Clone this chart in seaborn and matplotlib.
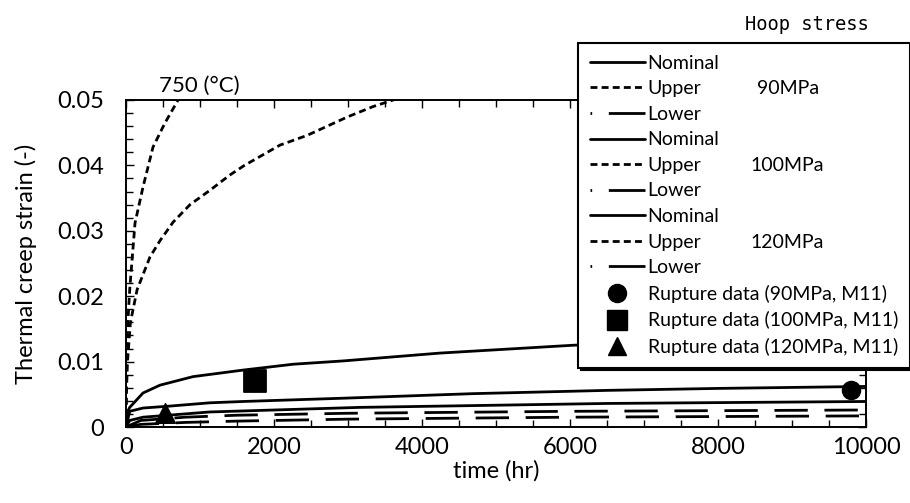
import matplotlib
matplotlib.use("Agg")
import matplotlib.pyplot as plt
import seaborn as sns
import numpy as np
import pandas as pd
from matplotlib.lines import Line2D
from matplotlib.ticker import MultipleLocator

# ---------------- data ----------------
upper_120_t = [0, 3, 15, 50, 122, 230, 365, 527, 689, 720]
upper_120_s = [0, 0.007, 0.014, 0.021, 0.0312, 0.0367, 0.0428, 0.0465, 0.0497, 0.0503]

upper_100_t = [0, 5, 20, 60, 150, 216, 324, 460, 635, 865, 1135, 1400, 1600, 2080, 2450, 2990, 3340, 3610, 3700]
upper_100_s = [0, 0.005, 0.010, 0.016, 0.021, 0.0229, 0.026, 0.0285, 0.0313, 0.034, 0.0362, 0.0385, 0.040,
               0.0431, 0.0446, 0.0474, 0.049, 0.050, 0.0503]

nominal_120_t = [0, 14, 50, 230, 460, 905, 1580, 2260, 2930, 4240, 6040, 8000, 10000]
nominal_120_s = [0, 0.0021, 0.003, 0.0052, 0.0064, 0.0077, 0.0087, 0.0096, 0.0101, 0.0113, 0.0125, 0.0134, 0.0142]

nominal_100_t = [0, 50, 230, 595, 1135, 1580, 2930, 4690, 6500, 8000, 10000]
nominal_100_s = [0, 0.0024, 0.0029, 0.0032, 0.0037, 0.0039, 0.0044, 0.0051, 0.0056, 0.0059, 0.0062]

nominal_90_t = [0, 50, 230, 1135, 3160, 6500, 10000]
nominal_90_s = [0, 0.0010, 0.0015, 0.0023, 0.0030, 0.0036, 0.0039]

lower_120_t = [0, 200, 800, 1500, 3000, 6000, 10000]
lower_120_s = [0, 0.0010, 0.0015, 0.0018, 0.0021, 0.0024, 0.0026]

lower_100_t = [0, 200, 800, 1500, 3000, 6000, 10000]
lower_100_s = [0, 0.0004, 0.0007, 0.0009, 0.0012, 0.0015, 0.0017]

rupture_90 = (9800, 0.0056)
rupture_100 = (1745, 0.0070)
rupture_120 = (527, 0.0021)

x_ticks = [0, 2000, 4000, 6000, 8000, 10000]
x_tick_labels = ["0", "2000", "4000", "6000", "8000", "10000"]
y_ticks = [0, 0.01, 0.02, 0.03, 0.04, 0.05]
y_tick_labels = ["0", "0.01", "0.02", "0.03", "0.04", "0.05"]

legend_labels = ["Nominal", "Upper", "Lower", "Nominal", "Upper", "Lower",
                 "Nominal", "Upper", "Lower",
                 "Rupture data (90MPa, M11)", "Rupture data (100MPa, M11)",
                 "Rupture data (120MPa, M11)"]
stress_labels = ["90MPa", "100MPa", "120MPa"]

# ---------------- style ----------------
sns.set_theme(style="white")
plt.rcParams["font.family"] = ["Lato", "DejaVu Sans"]
plt.rcParams["font.weight"] = "normal"
plt.rcParams["axes.labelweight"] = "normal"

W, H = 910, 503
fig = plt.figure(figsize=(W / 100, H / 100), dpi=100)
ax = fig.add_axes([126 / W, 1 - 427 / H, (866 - 126) / W, (427 - 100) / H])

LW = 2.0
solid = "-"
upper_ls = (0, (2.5, 1.5))
lower_ls = (0, (12, 6))

curves = [
    (upper_120_t, upper_120_s, upper_ls),
    (upper_100_t, upper_100_s, upper_ls),
    (nominal_120_t, nominal_120_s, solid),
    (nominal_100_t, nominal_100_s, solid),
    (nominal_90_t, nominal_90_s, solid),
    (lower_120_t, lower_120_s, lower_ls),
    (lower_100_t, lower_100_s, lower_ls),
]
for t, s, ls in curves:
    sns.lineplot(x=t, y=s, ax=ax, color="black", linewidth=LW, linestyle=ls,
                 estimator=None, sort=False, legend=False)

sns.scatterplot(x=[rupture_90[0]], y=[rupture_90[1]], ax=ax, marker="o", s=13 ** 2,
                color="black", edgecolor="black", legend=False, zorder=5)
sns.scatterplot(x=[rupture_100[0]], y=[rupture_100[1]], ax=ax, marker="s", s=16 ** 2,
                color="black", edgecolor="black", legend=False, zorder=5)
sns.scatterplot(x=[rupture_120[0]], y=[rupture_120[1]], ax=ax, marker="^", s=14 ** 2,
                color="black", edgecolor="black", legend=False, zorder=5)

ax.set_xlim(0, 10000)
ax.set_ylim(0, 0.05)
ax.set_xticks(x_ticks)
ax.set_xticklabels(x_tick_labels)
ax.set_yticks(y_ticks)
ax.set_yticklabels(y_tick_labels)
ax.xaxis.set_minor_locator(MultipleLocator(500))
ax.yaxis.set_minor_locator(MultipleLocator(0.002))
ax.tick_params(which="both", direction="in", top=True, right=True, bottom=True, left=True,
               color="black", width=1.0)
ax.tick_params(which="major", length=6, labelsize=17, labelcolor="black")
ax.tick_params(axis="x", which="major", pad=7)
ax.tick_params(axis="y", which="major", pad=16)
ax.tick_params(which="minor", length=5)
for sp in ax.spines.values():
    sp.set_color("black")
    sp.set_linewidth(1.4)

ax.set_xlabel("time (hr)", fontsize=17, color="black", labelpad=2, fontweight="normal")
ax.set_ylabel("Thermal creep strain (-)", fontsize=17, color="black", labelpad=14,
              fontweight="normal")

ax.text(0.045, 1.012, "750 (\u00b0C)", transform=ax.transAxes, fontsize=16,
        color="black", ha="left", va="bottom")
fig.text(745 / W, 1 - 25 / H, "Hoop stress", fontsize=13.5, color="black",
         family="DejaVu Sans Mono", ha="left", va="center")

# ---------------- legend ----------------
leg_lower = (0, (0.6, 6, 14, 6))
styles = [solid, upper_ls, leg_lower] * 3
handles = [Line2D([], [], color="black", linewidth=LW, linestyle=ls) for ls in styles]
handles += [
    Line2D([], [], color="black", marker="o", markersize=13, linestyle="none"),
    Line2D([], [], color="black", marker="s", markersize=15, linestyle="none"),
    Line2D([], [], color="black", marker="^", markersize=13, linestyle="none"),
]
leg = fig.legend(handles, legend_labels, loc="upper left",
                 bbox_to_anchor=(578 / W, 1 - 43 / H), bbox_transform=fig.transFigure,
                 borderaxespad=0,
                 fontsize=14, frameon=True, fancybox=False, framealpha=1,
                 edgecolor="black", facecolor="white", borderpad=0.6,
                 labelspacing=0.44, handlelength=2.83, handletextpad=0.15,
                 shadow={"color": "black", "alpha": 1})
leg.get_frame().set_linewidth(1.5)
leg.set_zorder(8)
for txt in leg.get_texts():
    txt.set_color("black")

fig.canvas.draw()
stress_x = [757, 750, 750]
for i, lab in enumerate(stress_labels):
    bb = leg.get_texts()[1 + 3 * i].get_window_extent()
    yc = (bb.y0 + bb.y1) / 2
    fig.text(stress_x[i] / W, yc / H, lab, fontsize=14, color="black",
             ha="left", va="center", zorder=20)

fig.savefig("out.png", dpi=100)
